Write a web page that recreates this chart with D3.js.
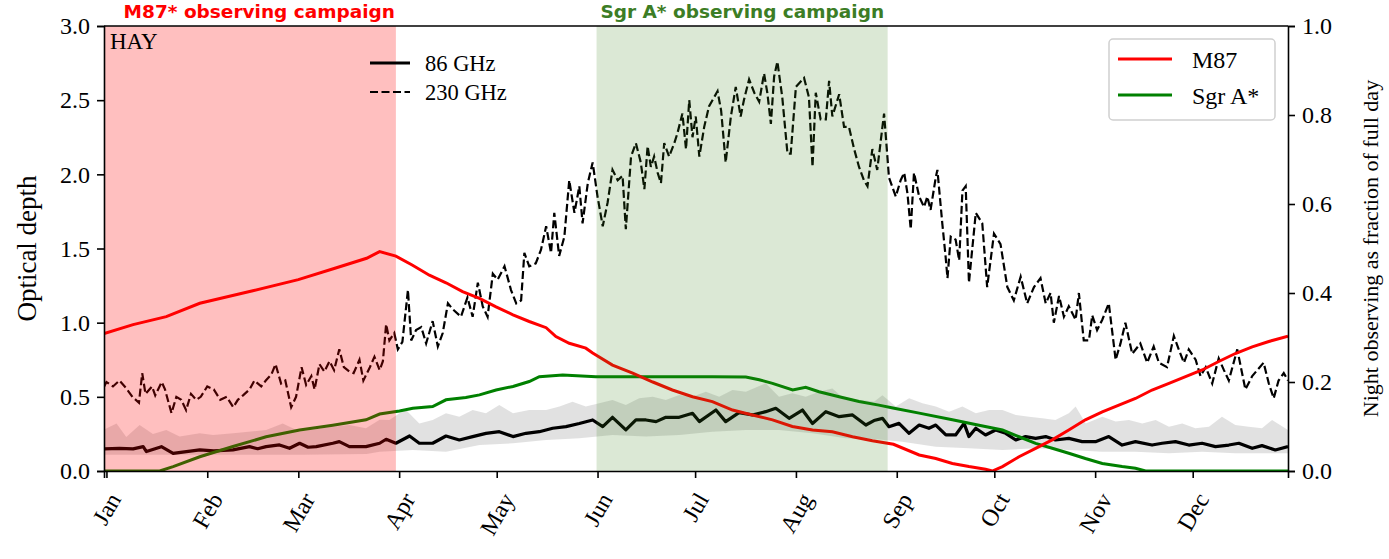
<!DOCTYPE html>
<html>
<head>
<meta charset="utf-8">
<script src="https://cdn.jsdelivr.net/npm/d3@7/dist/d3.min.js"></script>
<style>
  body { margin: 0; background: #fff; }
  svg text { font-family: "Liberation Serif", "Times New Roman", serif; }
</style>
</head>
<body>
<div id="chart"></div>
<script>
// axis ticks
var monthDays = [0, 31, 59, 90, 120, 151, 181, 212, 243, 273, 304, 334];
var monthNames = ["Jan", "Feb", "Mar", "Apr", "May", "Jun", "Jul", "Aug", "Sep", "Oct", "Nov", "Dec"];
var tauTicks = [0, 0.5, 1.0, 1.5, 2.0, 2.5, 3.0];
var fracTicks = [0, 0.2, 0.4, 0.6, 0.8, 1.0];

// campaign windows (day of year) and where their titles sit
var m87Campaign = [-6, 89];
var sgrCampaign = [150.7, 240.2];
var m87TitleDay = 47;
var sgrTitleDay = 195.5;

// 230 GHz optical depth [day, tau]
var tau230 = [[-0.7,0.57],[0,0.60],[2,0.57],[4,0.61],[6,0.56],[8,0.50],[10,0.46],[11,0.66],[12,0.52],[14,0.57],
  [15,0.51],[17,0.60],[18,0.55],[20,0.39],[21.5,0.50],[23,0.48],[24.5,0.41],[26,0.52],[27.6,0.48],[29,0.50],
  [31,0.57],[33,0.55],[35,0.48],[37,0.50],[39,0.43],[40.4,0.48],[42,0.51],[44,0.55],[45.5,0.61],[47.6,0.57],
  [49,0.61],[50.7,0.65],[52,0.72],[53.7,0.59],[55,0.61],[56.8,0.43],[58.3,0.50],[60,0.70],[61.4,0.58],[63,0.64],
  [64,0.55],[65.5,0.72],[67,0.67],[68.6,0.74],[70,0.68],[71.6,0.82],[73,0.70],[74.7,0.67],[76,0.66],[77.8,0.75],
  [79,0.61],[81,0.70],[82.4,0.77],[84,0.68],[85,0.74],[86,0.99],[87,0.88],[88.5,0.93],[89.6,0.82],[91,0.87],
  [92.7,1.22],[93.7,0.88],[95.2,0.95],[96.8,0.97],[98.3,0.86],[100.3,1.01],[101.9,0.84],[103.4,0.93],[105,1.13],[106.5,1.09],
  [109,1.04],[111,1.17],[112.6,1.04],[114.2,1.27],[115.7,1.11],[117.2,1.04],[118.8,1.33],[120.3,1.29],[122.4,1.38],[124.4,1.22],
  [126,1.13],[127.5,1.15],[128.5,1.47],[130,1.38],[132,1.40],[133.6,1.49],[135.2,1.65],[136.7,1.47],[137.7,1.74],[139.2,1.45],
  [140.8,1.58],[142.3,1.96],[143.9,1.74],[145.4,1.92],[146.4,1.67],[148,1.94],[149.5,2.08],[151,1.85],[152.6,1.65],[154.1,1.81],
  [155.6,2.03],[157.2,1.96],[158.7,1.99],[159.7,1.63],[161.3,2.12],[162.8,2.21],[164.3,2.08],[165.4,1.90],[166.4,2.19],[167.4,2.05],
  [168.4,2.12],[169.5,2.01],[170.5,1.94],[171.5,2.21],[173,2.12],[174.6,2.21],[175.6,2.28],[177.1,2.41],[178.2,2.17],[179.2,2.50],
  [180.2,2.25],[181.2,2.39],[182.3,2.12],[183.8,2.32],[185.3,2.46],[187.9,2.56],[189,2.43],[190.4,2.08],[192,2.39],[193.5,2.59],
  [195,2.39],[196,2.50],[197.6,2.64],[199.2,2.55],[200.7,2.49],[202.2,2.68],[203.2,2.55],[204.3,2.34],[205.3,2.66],[206.3,2.76],
  [207.8,2.52],[209.4,2.14],[210.4,2.14],[212,2.59],[214.5,2.65],[216,2.52],[217.1,2.05],[218.1,2.55],[219.6,2.37],[221.2,2.37],
  [222.2,2.63],[223.2,2.39],[225.3,2.54],[226.8,2.32],[228.3,2.32],[229.9,2.17],[231.4,2.05],[232.9,1.96],[234,1.92],[235.5,2.17],
  [237,2.03],[239.1,2.41],[240.6,1.98],[242.7,1.85],[244.2,1.96],[245.3,2.01],[246.3,1.87],[247.3,1.63],[248.3,2.01],[249.9,1.85],
  [251.4,1.78],[252.4,1.85],[253.4,1.76],[255,1.98],[255.5,2.03],[257,1.67],[258,1.45],[258.6,1.30],[259.6,1.58],[261.1,1.56],
  [262.2,1.42],[263.2,1.89],[264.2,1.92],[265.2,1.27],[267.3,1.74],[269.3,1.67],[270.8,1.24],[272.9,1.60],[274.9,1.53],[277,1.24],
  [279,1.15],[281.1,1.31],[283.1,1.13],[285.2,1.24],[287.2,1.30],[288.8,1.13],[290.3,1.20],[291.3,1.00],[292.9,1.18],[294.4,1.04],
  [295.9,1.11],[298,1.02],[299,1.20],[300.5,0.88],[302.1,0.88],[303.1,1.05],[304.6,0.95],[306.2,1.02],[308.2,1.13],[310.3,0.75],
  [311.8,0.86],[313.3,1.00],[315.4,0.79],[317.9,0.86],[320,0.73],[322,0.84],[323.6,0.73],[326.1,0.70],[328.2,0.91],[329.7,0.82],
  [331.3,0.73],[332.8,0.82],[334.9,0.75],[336.4,0.64],[338,0.70],[340,0.59],[342,0.76],[343.6,0.68],[345.1,0.61],[347.7,0.82],
  [350.2,0.55],[352.3,0.64],[355.8,0.73],[357.4,0.59],[358.9,0.49],[360.4,0.61],[362,0.66],[363.3,0.61]];

// 86 GHz median optical depth [day, tau]
var tau86 = [[-0.7,0.149],[4,0.152],[8.2,0.149],[11.3,0.164],[12.3,0.131],[16.9,0.164],[20.5,0.119],[24.6,0.131],[28.7,0.142],[33,0.136],
  [38.9,0.142],[44,0.164],[46.5,0.150],[49.1,0.164],[53.2,0.176],[56.3,0.153],[59.4,0.187],[62,0.160],[64.5,0.164],[69.6,0.187],
  [71.6,0.198],[74.7,0.164],[79.8,0.164],[84,0.187],[86,0.214],[89,0.187],[93.2,0.236],[96.2,0.187],[100.3,0.187],[104.4,0.236],
  [108.5,0.209],[112.6,0.232],[116.7,0.254],[120.8,0.265],[125,0.232],[129,0.254],[133.1,0.265],[137.2,0.288],[141.3,0.299],[145.4,0.320],
  [149.5,0.344],[152.6,0.299],[155.6,0.362],[159.7,0.277],[162.8,0.344],[165.9,0.344],[169,0.333],[172,0.362],[176.1,0.362],[180.2,0.389],
  [182.3,0.333],[187.4,0.411],[190.4,0.333],[194.5,0.393],[198.6,0.378],[202.7,0.400],[205.8,0.423],[209.9,0.355],[214,0.411],[217.1,0.320],
  [221.2,0.400],[225.3,0.366],[229.4,0.378],[233.5,0.310],[236,0.340],[238.6,0.355],[240.6,0.299],[243.7,0.321],[246.8,0.254],[249.9,0.310],
  [252.9,0.288],[255,0.310],[258.1,0.243],[261.1,0.243],[263.7,0.321],[265.2,0.232],[267.3,0.288],[270.3,0.243],[273.4,0.276],[276.5,0.254],
  [279.6,0.209],[282.6,0.232],[285.7,0.220],[288.8,0.232],[291.8,0.209],[295.9,0.220],[300,0.198],[304.1,0.198],[308.2,0.232],[312.3,0.175],
  [316.4,0.198],[321.5,0.175],[324.6,0.187],[328.7,0.198],[332.8,0.175],[336.9,0.187],[341,0.164],[345.1,0.175],[348.2,0.187],[352.3,0.153],
  [355.3,0.171],[359.4,0.142],[363.3,0.164]];

// 86 GHz spread: upper and lower edge [day, tau]
var tau86Hi = [[-0.7,0.28],[3.1,0.32],[6.1,0.23],[10.2,0.31],[14.3,0.25],[18.4,0.277],[22.5,0.232],[28.7,0.254],[32.8,0.243],[38.9,0.254],
  [49.1,0.277],[54.2,0.32],[59.4,0.266],[69.6,0.299],[74.7,0.31],[79.8,0.288],[84,0.345],[87,0.344],[90.1,0.39],[92.1,0.411],
  [96.2,0.32],[100.3,0.344],[104.4,0.389],[108.5,0.366],[112.6,0.411],[116.7,0.389],[120.8,0.445],[125,0.389],[130,0.411],[135.2,0.411],
  [139.3,0.434],[143.3,0.467],[147.4,0.434],[151.5,0.456],[155.6,0.479],[159.7,0.445],[163.8,0.49],[168,0.501],[172,0.479],[176.1,0.512],
  [180.2,0.501],[184.3,0.535],[188.4,0.501],[192.5,0.546],[196.6,0.535],[202.7,0.591],[206.8,0.501],[210.9,0.524],[215,0.501],[219.1,0.535],
  [223.2,0.557],[227.3,0.479],[232.4,0.479],[236,0.467],[238.6,0.51],[242.7,0.434],[246.8,0.49],[250.9,0.456],[255,0.434],[259.1,0.40],
  [263.2,0.434],[267.3,0.389],[271.4,0.411],[275.5,0.411],[279.6,0.378],[283.7,0.366],[287.7,0.355],[291.8,0.344],[295.9,0.389],[298,0.434],
  [301.1,0.321],[306.2,0.366],[310.3,0.333],[314.4,0.344],[318.5,0.321],[322.6,0.344],[326.7,0.299],[330.8,0.321],[334.8,0.288],[339,0.299],
  [343,0.366],[347.1,0.31],[351.2,0.299],[355.3,0.288],[358.4,0.344],[363.3,0.277]];
var tau86Lo = [[-0.7,0.11],[30,0.11],[60,0.11],[80,0.115],[84,0.13],[94.2,0.142],[104.4,0.13],[114.7,0.175],[125,0.187],[135.2,0.209],
  [145.4,0.22],[155.6,0.243],[165.9,0.232],[176.1,0.243],[186.3,0.265],[196.6,0.277],[206.8,0.277],[217.1,0.254],[227.3,0.22],[236,0.215],
  [244.7,0.198],[255,0.164],[265.2,0.153],[275.5,0.142],[285.7,0.153],[295.9,0.142],[306.2,0.13],[316.4,0.13],[326.7,0.119],[336.9,0.13],
  [347.1,0.119],[363.3,0.119]];

// night observing time as fraction of day [day, fraction]
var nightM87 = [[-0.7,0.309],[8.2,0.329],[18.4,0.347],[28.7,0.377],[45,0.405],[59,0.43],[70,0.455],[80,0.478],[84,0.493],[89,0.483],
  [94,0.463],[99.3,0.44],[104.4,0.423],[109.5,0.403],[114.7,0.388],[119.8,0.369],[125,0.351],[130,0.336],[135.2,0.322],[138.2,0.302],
  [142.3,0.287],[147.4,0.276],[149.5,0.265],[155.6,0.238],[161.8,0.22],[168,0.20],[174,0.182],[180.2,0.167],[186.3,0.156],[192.5,0.137],
  [198.6,0.126],[204.8,0.115],[210.9,0.10],[217.1,0.092],[223.2,0.088],[229.4,0.077],[235.5,0.068],[242,0.06],[249.9,0.036],[255,0.028],
  [260.1,0.017],[265.2,0.01],[270.3,0.004],[272.4,0],[275.5,0.01],[280.6,0.032],[285.7,0.051],[290.8,0.07],[295.9,0.092],[301,0.115],
  [306.2,0.133],[311.3,0.148],[316.4,0.163],[321.5,0.182],[326.7,0.197],[331.8,0.212],[336.9,0.227],[342,0.246],[347.1,0.264],[352.3,0.279],
  [357.4,0.291],[363.3,0.303]];
var nightSgrA = [[-0.7,0],[16.4,0],[20.5,0.01],[28.7,0.032],[38.9,0.055],[49.1,0.077],[59.4,0.092],[69.6,0.103],[79.8,0.115],[84,0.128],
  [90.1,0.135],[94.2,0.141],[100.3,0.145],[104.4,0.16],[110.5,0.165],[114.7,0.171],[119.8,0.182],[125,0.19],[130,0.201],[133.1,0.212],
  [140.3,0.216],[150.5,0.212],[165.9,0.212],[186.3,0.212],[196.6,0.211],[200.7,0.205],[204.8,0.197],[211,0.182],[215,0.188],[219.1,0.178],
  [225.3,0.167],[231.4,0.156],[237.5,0.148],[242.2,0.141],[249.9,0.13],[260.1,0.115],[268.3,0.103],[275.5,0.092],[280.6,0.077],[285.7,0.062],
  [290.8,0.051],[295.9,0.04],[301,0.028],[306.2,0.017],[312.3,0.01],[316.4,0.006],[319.5,0],[363.3,0]];

var W = 1389, H = 559;
var margin = {top: 26, right: 101, bottom: 88, left: 104},
    width = W - margin.left - margin.right,
    height = H - margin.top - margin.bottom;

var svg = d3.select("#chart")
  .append("svg")
    .attr("width", W)
    .attr("height", H);

svg.append("defs").append("clipPath")
    .attr("id", "plot-clip")
  .append("rect")
    .attr("width", width)
    .attr("height", height);

var g = svg.append("g")
    .attr("transform", "translate(" + margin.left + "," + margin.top + ")");

var x = d3.scaleLinear().domain([-0.75, 363.3]).range([0, width]);
var y = d3.scaleLinear().domain([0, 3]).range([height, 0]);
var y2 = d3.scaleLinear().domain([0, 1]).range([height, 0]);

var plot = g.append("g").attr("clip-path", "url(#plot-clip)");

var lineTau = d3.line()
    .x(function(d) { return x(d[0]); })
    .y(function(d) { return y(d[1]); });
var lineFrac = d3.line()
    .x(function(d) { return x(d[0]); })
    .y(function(d) { return y2(d[1]); });

// 86 GHz spread band
plot.append("path")
    .datum(tau86Hi.concat(tau86Lo.slice().reverse()))
    .attr("d", function(d) { return lineTau(d) + "Z"; })
    .attr("fill", "rgb(128,128,128)")
    .attr("fill-opacity", 0.24);

plot.append("path")
    .datum(tau86)
    .attr("d", lineTau)
    .attr("fill", "none")
    .attr("stroke", "#000")
    .attr("stroke-width", 3.2)
    .attr("stroke-linejoin", "round");

plot.append("path")
    .datum(tau230)
    .attr("d", lineTau)
    .attr("fill", "none")
    .attr("stroke", "#000")
    .attr("stroke-width", 2.2)
    .attr("stroke-dasharray", "8,3.5");

// station name and frequency legend
g.append("text")
    .attr("x", 6)
    .attr("y", 23)
    .attr("font-size", "23px")
    .attr("fill", "#000")
    .text("HAY");

var freqLegend = [{label: "86 GHz", dash: null, w: 3}, {label: "230 GHz", dash: "8,3.5", w: 2.2}];
var fl = g.append("g").attr("transform", "translate(266,37)");
freqLegend.forEach(function(e, i) {
  fl.append("line")
      .attr("x1", 0).attr("x2", 40)
      .attr("y1", i * 29).attr("y2", i * 29)
      .attr("stroke", "#000")
      .attr("stroke-width", e.w)
      .attr("stroke-dasharray", e.dash);
  fl.append("text")
      .attr("x", 55)
      .attr("y", i * 29 + 8)
      .attr("font-size", "22.5px")
      .text(e.label);
});

// night fraction curves (right axis)
plot.append("path")
    .datum(nightSgrA)
    .attr("d", lineFrac)
    .attr("fill", "none")
    .attr("stroke", "#008000")
    .attr("stroke-width", 3);

plot.append("path")
    .datum(nightM87)
    .attr("d", lineFrac)
    .attr("fill", "none")
    .attr("stroke", "#ff0000")
    .attr("stroke-width", 3);

// campaign spans drawn over everything
plot.append("rect")
    .attr("x", x(m87Campaign[0]))
    .attr("width", x(m87Campaign[1]) - x(m87Campaign[0]))
    .attr("y", 0)
    .attr("height", height)
    .attr("fill", "#ff0000")
    .attr("fill-opacity", 0.25);

plot.append("rect")
    .attr("x", x(sgrCampaign[0]))
    .attr("width", x(sgrCampaign[1]) - x(sgrCampaign[0]))
    .attr("y", 0)
    .attr("height", height)
    .attr("fill", "rgb(56,128,20)")
    .attr("fill-opacity", 0.18);

// campaign titles
g.append("text")
    .attr("x", x(m87TitleDay))
    .attr("y", -8)
    .attr("text-anchor", "middle")
    .attr("font-size", "18.5px")
    .attr("font-weight", "bold")
    .style("font-family", "'DejaVu Sans', sans-serif")
    .attr("fill", "#ff0000")
    .text("M87* observing campaign");

g.append("text")
    .attr("x", x(sgrTitleDay))
    .attr("y", -8)
    .attr("text-anchor", "middle")
    .attr("font-size", "18.5px")
    .attr("font-weight", "bold")
    .style("font-family", "'DejaVu Sans', sans-serif")
    .attr("fill", "#3c7d25")
    .text("Sgr A* observing campaign");

// source legend
var sl = g.append("g").attr("transform", "translate(1005,13)");
sl.append("rect")
    .attr("width", 166)
    .attr("height", 81)
    .attr("rx", 4)
    .attr("fill", "#fff")
    .attr("fill-opacity", 0.8)
    .attr("stroke", "#d0d0d0")
    .attr("stroke-width", 1.5);
[{label: "M87", color: "#ff0000"}, {label: "Sgr A*", color: "#008000"}].forEach(function(e, i) {
  sl.append("line")
      .attr("x1", 9).attr("x2", 63)
      .attr("y1", 20 + i * 36).attr("y2", 20 + i * 36)
      .attr("stroke", e.color)
      .attr("stroke-width", 3);
  sl.append("text")
      .attr("x", 83)
      .attr("y", 29 + i * 36)
      .attr("font-size", "24px")
      .text(e.label);
});

// axes
var xAxis = g.append("g")
    .attr("transform", "translate(0," + height + ")")
    .call(d3.axisBottom(x).tickValues(monthDays).tickFormat(function(d, i) { return monthNames[i]; })
      .tickSizeOuter(0).tickSize(7).tickPadding(8));
var yAxis = g.append("g")
    .call(d3.axisLeft(y).tickValues(tauTicks).tickFormat(d3.format(".1f")).tickSizeOuter(0).tickSize(7).tickPadding(7));
var y2Axis = g.append("g")
    .attr("transform", "translate(" + width + ",0)")
    .call(d3.axisRight(y2).tickValues(fracTicks).tickFormat(d3.format(".1f")).tickSizeOuter(0).tickSize(7).tickPadding(7));

[xAxis, yAxis, y2Axis].forEach(function(a) {
  a.select(".domain").attr("stroke-width", 1.6);
  a.selectAll(".tick line").attr("stroke-width", 1.6);
  a.selectAll(".tick text").attr("font-size", "24px").attr("fill", "#000")
    .style("font-family", "'Liberation Serif', serif");
});

// top spine
g.append("line")
    .attr("x1", 0).attr("x2", width)
    .attr("y1", 0).attr("y2", 0)
    .attr("stroke", "#000")
    .attr("stroke-width", 1.6);

// rotate month labels, centre of rotated box under tick
xAxis.selectAll(".tick text").each(function() {
  var t = d3.select(this);
  var w = this.getComputedTextLength();
  var boxH = w * Math.sin(Math.PI / 3) + 16 * 0.5;
  t.attr("y", null).attr("dy", null)
    .attr("text-anchor", "middle")
    .attr("dominant-baseline", "central")
    .attr("transform", "translate(0," + (20 + boxH / 2) + ") rotate(-60)");
});

// axis titles
g.append("text")
    .attr("transform", "translate(-68," + (height / 2) + ") rotate(-90)")
    .attr("text-anchor", "middle")
    .attr("font-size", "27px")
    .text("Optical depth");

g.append("text")
    .attr("transform", "translate(" + (width + 90) + "," + (height / 2) + ") rotate(-90)")
    .attr("text-anchor", "middle")
    .attr("font-size", "22px")
    .text("Night observing as fraction of full day");
</script>
</body>
</html>
